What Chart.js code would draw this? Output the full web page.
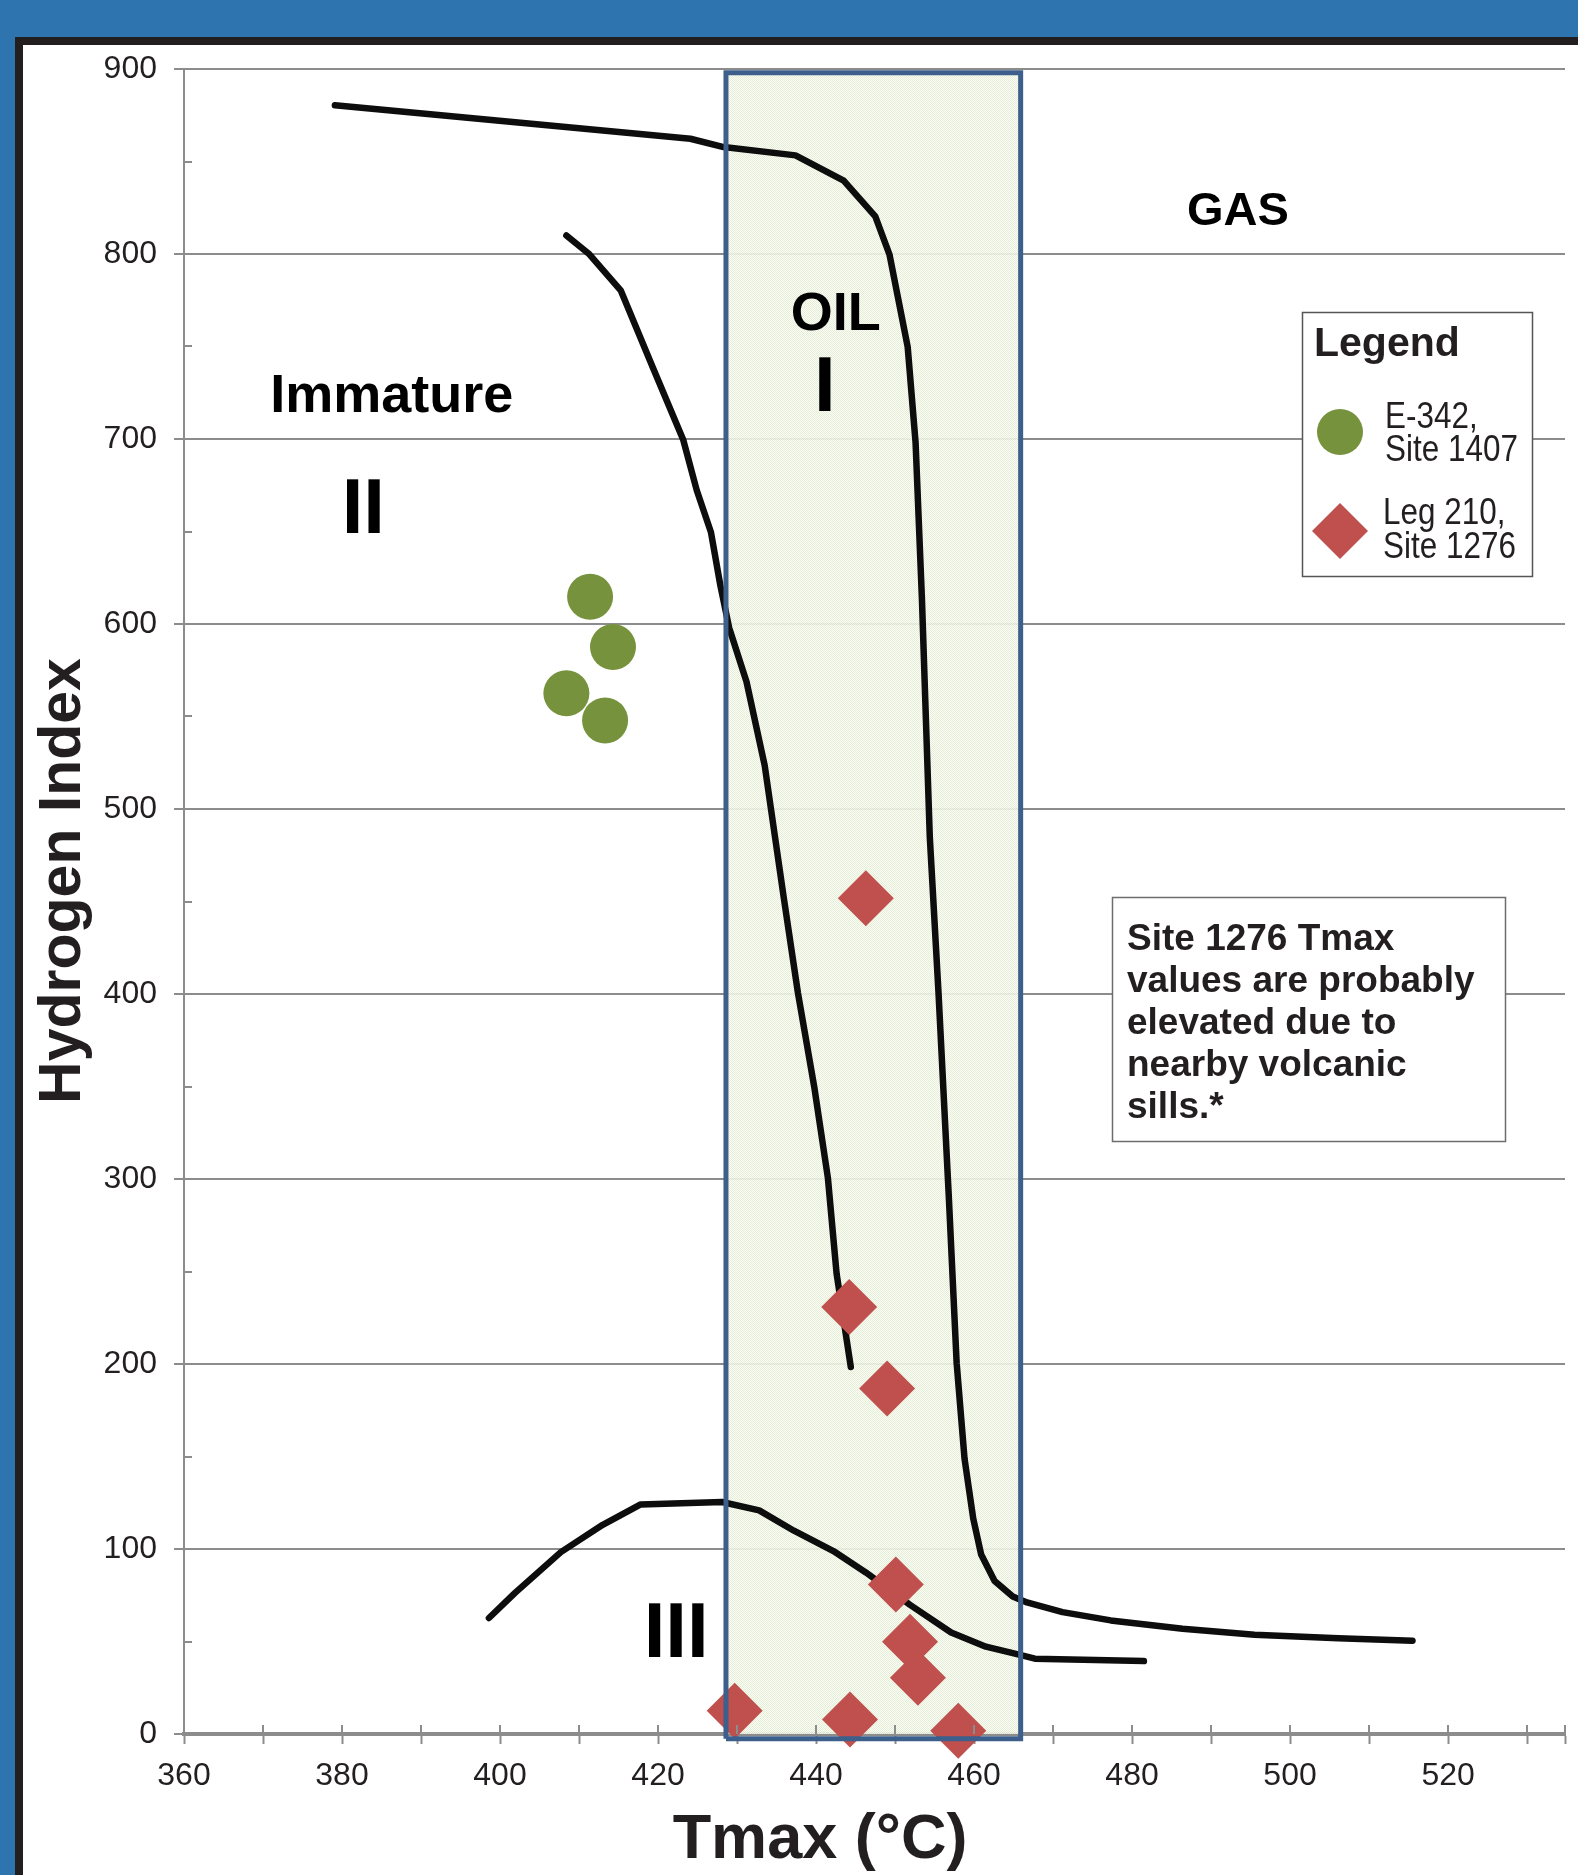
<!DOCTYPE html>
<html>
<head>
<meta charset="utf-8">
<title>Hydrogen Index vs Tmax</title>
<script src="https://cdn.jsdelivr.net/npm/chart.js@4.4.1/dist/chart.umd.min.js"></script>
<style>
  html, body { margin:0; padding:0; width:1578px; height:1875px; overflow:hidden; background:#2e75b0; }
  #frame { position:absolute; left:15px; top:37px; right:0; bottom:0; background:#ffffff;
           border-left:8px solid #231f20; border-top:8px solid #231f20; }
  #wrap { position:absolute; left:0; top:0; width:1578px; height:1875px; }
</style>
</head>
<body>
<div id="frame"></div>
<div id="wrap"><canvas id="c" width="1578" height="1875"></canvas></div>
<script>
// ---------------- DATA ----------------
// Tmax (°C) and Hydrogen Index (mg HC/g TOC)
const e342Tmax = [411.4, 414.3, 408.4, 413.3];
const e342HI   = [614.7, 587.6, 562.6, 547.9];

const leg210Tmax = [446.3, 444.2, 449.0, 450.1, 451.9, 452.9, 429.7, 444.3, 458.0];
const leg210HI   = [451.8, 230.8, 186.8, 80.8, 49.8, 30.4, 12.6, 7.8, 1.8];

// Kerogen evolution path, type I
const typeITmax = [379.1, 424.1, 428.3, 437.4, 443.5, 447.5, 449.3, 451.6, 452.6, 453.4, 454.4, 455.5, 456.8, 457.8, 458.8, 459.9, 460.9, 462.6, 464.9, 466.7, 471.2, 477.3, 486.4, 495.5, 506.1, 515.5];
const typeIHI   = [880.4, 862.3, 857.8, 853.3, 839.7, 820.3, 799.6, 749.8, 698.1, 614.0, 484.8, 400.8, 290.9, 200.4, 148.7, 116.4, 97.0, 82.7, 74.3, 71.1, 65.9, 61.4, 56.9, 53.7, 51.7, 50.4];

// Kerogen evolution path, type II
const typeIITmax = [408.4, 411.2, 415.3, 419.5, 423.2, 424.9, 426.7, 427.9, 429.0, 431.2, 433.5, 435.9, 437.7, 439.8, 441.5, 442.6, 444.4];
const typeIIHI   = [810.0, 800.3, 780.2, 737.0, 699.4, 672.3, 649.6, 620.6, 598.0, 568.8, 523.6, 452.5, 400.8, 349.1, 300.6, 248.9, 198.4];

// Kerogen evolution path, type III
const typeIIITmax = [398.6, 401.9, 407.7, 413.0, 417.8, 428.1, 432.8, 437.2, 442.2, 446.3, 451.9, 457.1, 461.5, 465.3, 467.7, 481.5];
const typeIIIHI   = [62.7, 76.3, 98.3, 113.1, 124.1, 125.4, 120.9, 109.9, 98.9, 87.3, 69.8, 54.9, 47.2, 43.3, 40.7, 39.4];

// Oil window box (Tmax range, HI range)
const oilWindowTmax = [428.6, 465.9];
const oilWindowHI   = [-2.5, 898];

// Axis ticks
const xTickLabels = [360, 380, 400, 420, 440, 460, 480, 500, 520];
const yTickLabels = [0, 100, 200, 300, 400, 500, 600, 700, 800, 900];

// Text labels
const regionTexts = ['Immature', 'II', 'OIL', 'I', 'GAS', 'III'];
const legendTitle = 'Legend';
const seriesNames = [['E-342,', 'Site 1407'], ['Leg 210,', 'Site 1276']];
const noteLines = ['Site 1276 Tmax', 'values are probably', 'elevated due to', 'nearby volcanic', 'sills.*'];
const xTitle = 'Tmax (°C)';
const yTitle = 'Hydrogen Index';

// ---------------- STYLE / LAYOUT ----------------
const FONT = "'Liberation Sans', Arial, Helvetica, sans-serif";
const GRID = '#8c8c8c';
const GREEN = '#76923c';
const RED = '#c0504d';
const BOX_BLUE = '#3c5f8c';
const CURVE = '#0d0d0d';
const X_MIN = 360, X_MAX = 534.8, Y_MIN = 0, Y_MAX = 900;

// region label placement (data units) and font size
const regionPos = [
  {t: 386.3, hi: 714.7, size: 54},
  {t: 382.7, hi: 649.3, size: 78},
  {t: 442.5, hi: 758.9, size: 54},
  {t: 441.1, hi: 715.3, size: 78},
  {t: 493.4, hi: 815.7, size: 47},
  {t: 422.3, hi: 41.5, size: 78}
];

const zip = (xs, ys) => xs.map((v, i) => ({x: v, y: ys[i]}));

const boxPoly = [
  {x: oilWindowTmax[0], y: oilWindowHI[0]},
  {x: oilWindowTmax[0], y: oilWindowHI[1]},
  {x: oilWindowTmax[1], y: oilWindowHI[1]},
  {x: oilWindowTmax[1], y: oilWindowHI[0]},
  {x: oilWindowTmax[0], y: oilWindowHI[0]}
];

// dotted pale-green texture
function makePattern() {
  const c = document.createElement('canvas');
  c.width = 2; c.height = 2;
  const g = c.getContext('2d');
  g.fillStyle = 'rgba(251,253,247,0.9)'; g.fillRect(0, 0, 2, 2);
  g.clearRect(0, 0, 1, 1); g.clearRect(1, 1, 1, 1);
  g.fillStyle = 'rgba(226,236,207,0.9)'; g.fillRect(0, 0, 1, 1); g.fillRect(1, 1, 1, 1);
  return document.getElementById('c').getContext('2d').createPattern(c, 'repeat');
}

const decor = {
  id: 'decor',
  afterDraw(chart) {
    const {ctx, chartArea: ca} = chart;
    const xs = chart.scales.x, ys = chart.scales.y;
    ctx.save();
    // inward minor ticks on y axis and inward part of x ticks
    ctx.strokeStyle = GRID; ctx.lineWidth = 2;
    ys.ticks.forEach(t => {
      if (t.value % 100 !== 0) {
        const py = Math.round(ys.getPixelForValue(t.value));
        ctx.beginPath(); ctx.moveTo(ca.left, py); ctx.lineTo(ca.left + 8, py); ctx.stroke();
      }
    });
    xs.ticks.forEach(t => {
      const px = Math.round(xs.getPixelForValue(t.value));
      ctx.beginPath(); ctx.moveTo(px, ca.bottom); ctx.lineTo(px, ca.bottom - 9); ctx.stroke();
    });

    // region labels
    ctx.fillStyle = '#000';
    ctx.textAlign = 'center'; ctx.textBaseline = 'alphabetic';
    regionTexts.forEach((txt, i) => {
      const p = regionPos[i];
      ctx.font = `bold ${p.size}px ${FONT}`;
      ctx.fillText(txt, xs.getPixelForValue(p.t), ys.getPixelForValue(p.hi));
    });

    // axis titles
    ctx.fillStyle = '#231f20';
    ctx.font = `bold 63px ${FONT}`;
    ctx.textAlign = 'center';
    ctx.fillText(xTitle, 820, 1858);
    ctx.save();
    ctx.translate(80, 881);
    ctx.rotate(-Math.PI / 2);
    ctx.font = `bold 59px ${FONT}`;
    ctx.fillText(yTitle, 0, 0);
    ctx.restore();

    // legend box
    ctx.fillStyle = '#fff';
    ctx.fillRect(1302, 312, 231, 265);
    ctx.strokeStyle = '#555'; ctx.lineWidth = 1.5;
    ctx.strokeRect(1302.5, 312.5, 230, 264);
    ctx.fillStyle = '#231f20';
    ctx.textAlign = 'left';
    ctx.font = `bold 41px ${FONT}`;
    ctx.fillText(legendTitle, 1314, 356);
    // markers
    ctx.fillStyle = GREEN;
    ctx.beginPath(); ctx.arc(1340, 432, 23, 0, Math.PI * 2); ctx.fill();
    ctx.fillStyle = RED;
    ctx.beginPath();
    ctx.moveTo(1340, 531 - 28); ctx.lineTo(1368, 531); ctx.lineTo(1340, 531 + 28); ctx.lineTo(1312, 531);
    ctx.closePath(); ctx.fill();
    // item text (slightly condensed)
    ctx.fillStyle = '#231f20';
    ctx.font = `37px ${FONT}`;
    const legendText = (s, x, y) => {
      ctx.save(); ctx.translate(x, y); ctx.scale(0.85, 1); ctx.fillText(s, 0, 0); ctx.restore();
    };
    legendText(seriesNames[0][0], 1385, 428);
    legendText(seriesNames[0][1], 1385, 461);
    legendText(seriesNames[1][0], 1383, 524);
    legendText(seriesNames[1][1], 1383, 558);

    // note box
    ctx.fillStyle = '#fff';
    ctx.fillRect(1112, 897, 394, 245);
    ctx.strokeStyle = '#6d6d6d'; ctx.lineWidth = 1.5;
    ctx.strokeRect(1112.5, 897.5, 393, 244);
    ctx.fillStyle = '#231f20';
    ctx.font = `bold 37px ${FONT}`;
    noteLines.forEach((s, i) => ctx.fillText(s, 1127, 950 + i * 42));
    ctx.restore();
  }
};

const curveStyle = {
  type: 'line', showLine: true, pointRadius: 0, pointHoverRadius: 0, borderColor: CURVE,
  borderWidth: 6.5, tension: 0, fill: false, borderJoinStyle: 'round', borderCapStyle: 'round', order: 5
};

new Chart(document.getElementById('c'), {
  type: 'scatter',
  data: {
    datasets: [
      { label: 'Oil window fill', type: 'line', data: boxPoly, showLine: true, pointRadius: 0,
        borderWidth: 0, borderColor: 'rgba(0,0,0,0)', backgroundColor: makePattern(), fill: 'shape', order: 10 },
      Object.assign({label: 'Type I', data: zip(typeITmax, typeIHI)}, curveStyle),
      Object.assign({label: 'Type II', data: zip(typeIITmax, typeIIHI)}, curveStyle),
      Object.assign({label: 'Type III', data: zip(typeIIITmax, typeIIIHI)}, curveStyle),
      { label: 'E-342, Site 1407', data: zip(e342Tmax, e342HI), pointStyle: 'circle', pointRadius: 23,
        pointBorderWidth: 0, backgroundColor: GREEN, borderColor: GREEN, clip: false, order: 2 },
      { label: 'Leg 210, Site 1276', data: zip(leg210Tmax, leg210HI), pointStyle: 'rectRot', pointRadius: 28,
        pointBorderWidth: 0, backgroundColor: RED, borderColor: RED, clip: false, order: 2 },
      { label: 'Oil window border', type: 'line', data: boxPoly, showLine: true, pointRadius: 0,
        borderWidth: 5, borderColor: BOX_BLUE, fill: false, clip: false, borderJoinStyle: 'miter', order: 0 }
    ]
  },
  options: {
    responsive: false, animation: false, devicePixelRatio: 1,
    layout: { autoPadding: false, padding: { left: 0, top: 69, right: 13, bottom: 0 } },
    plugins: { legend: { display: false }, tooltip: { enabled: false }, title: { display: false } },
    scales: {
      x: {
        type: 'linear', position: 'bottom', min: X_MIN, max: X_MAX,
        afterBuildTicks: s => {
          const vals = [];
          for (let v = X_MIN; v <= 530; v += 10) vals.push({value: v});
          vals.push({value: X_MAX});
          s.ticks = vals;
        },
        afterFit: s => { s.height = 141; s.paddingLeft = 0; s.paddingRight = 0; },
        ticks: {
          autoSkip: false, maxRotation: 0, minRotation: 0, padding: 13,
          color: '#231f20', font: { family: FONT, size: 32 },
          callback: v => xTickLabels.includes(v) ? String(v) : ''
        },
        grid: { drawOnChartArea: false, drawTicks: true, tickLength: 10, tickColor: GRID, tickWidth: 2 },
        border: { display: true, color: GRID, width: 4 }
      },
      y: {
        type: 'linear', position: 'left', min: Y_MIN, max: Y_MAX,
        ticks: {
          stepSize: 50, padding: 17, autoSkip: false,
          color: '#231f20', font: { family: FONT, size: 32 },
          callback: v => yTickLabels.includes(v) ? String(v) : ''
        },
        afterFit: s => { s.width = 184; },
        grid: {
          drawOnChartArea: true, drawTicks: true, tickLength: 10, lineWidth: 2,
          color: c => (c.tick && c.tick.value % 100 === 0) ? GRID : 'rgba(0,0,0,0)',
          tickColor: c => (c.tick && c.tick.value % 100 === 0) ? GRID : 'rgba(0,0,0,0)'
        },
        border: { display: true, color: GRID, width: 2 }
      }
    }
  },
  plugins: [decor]
});
</script>
</body>
</html>
